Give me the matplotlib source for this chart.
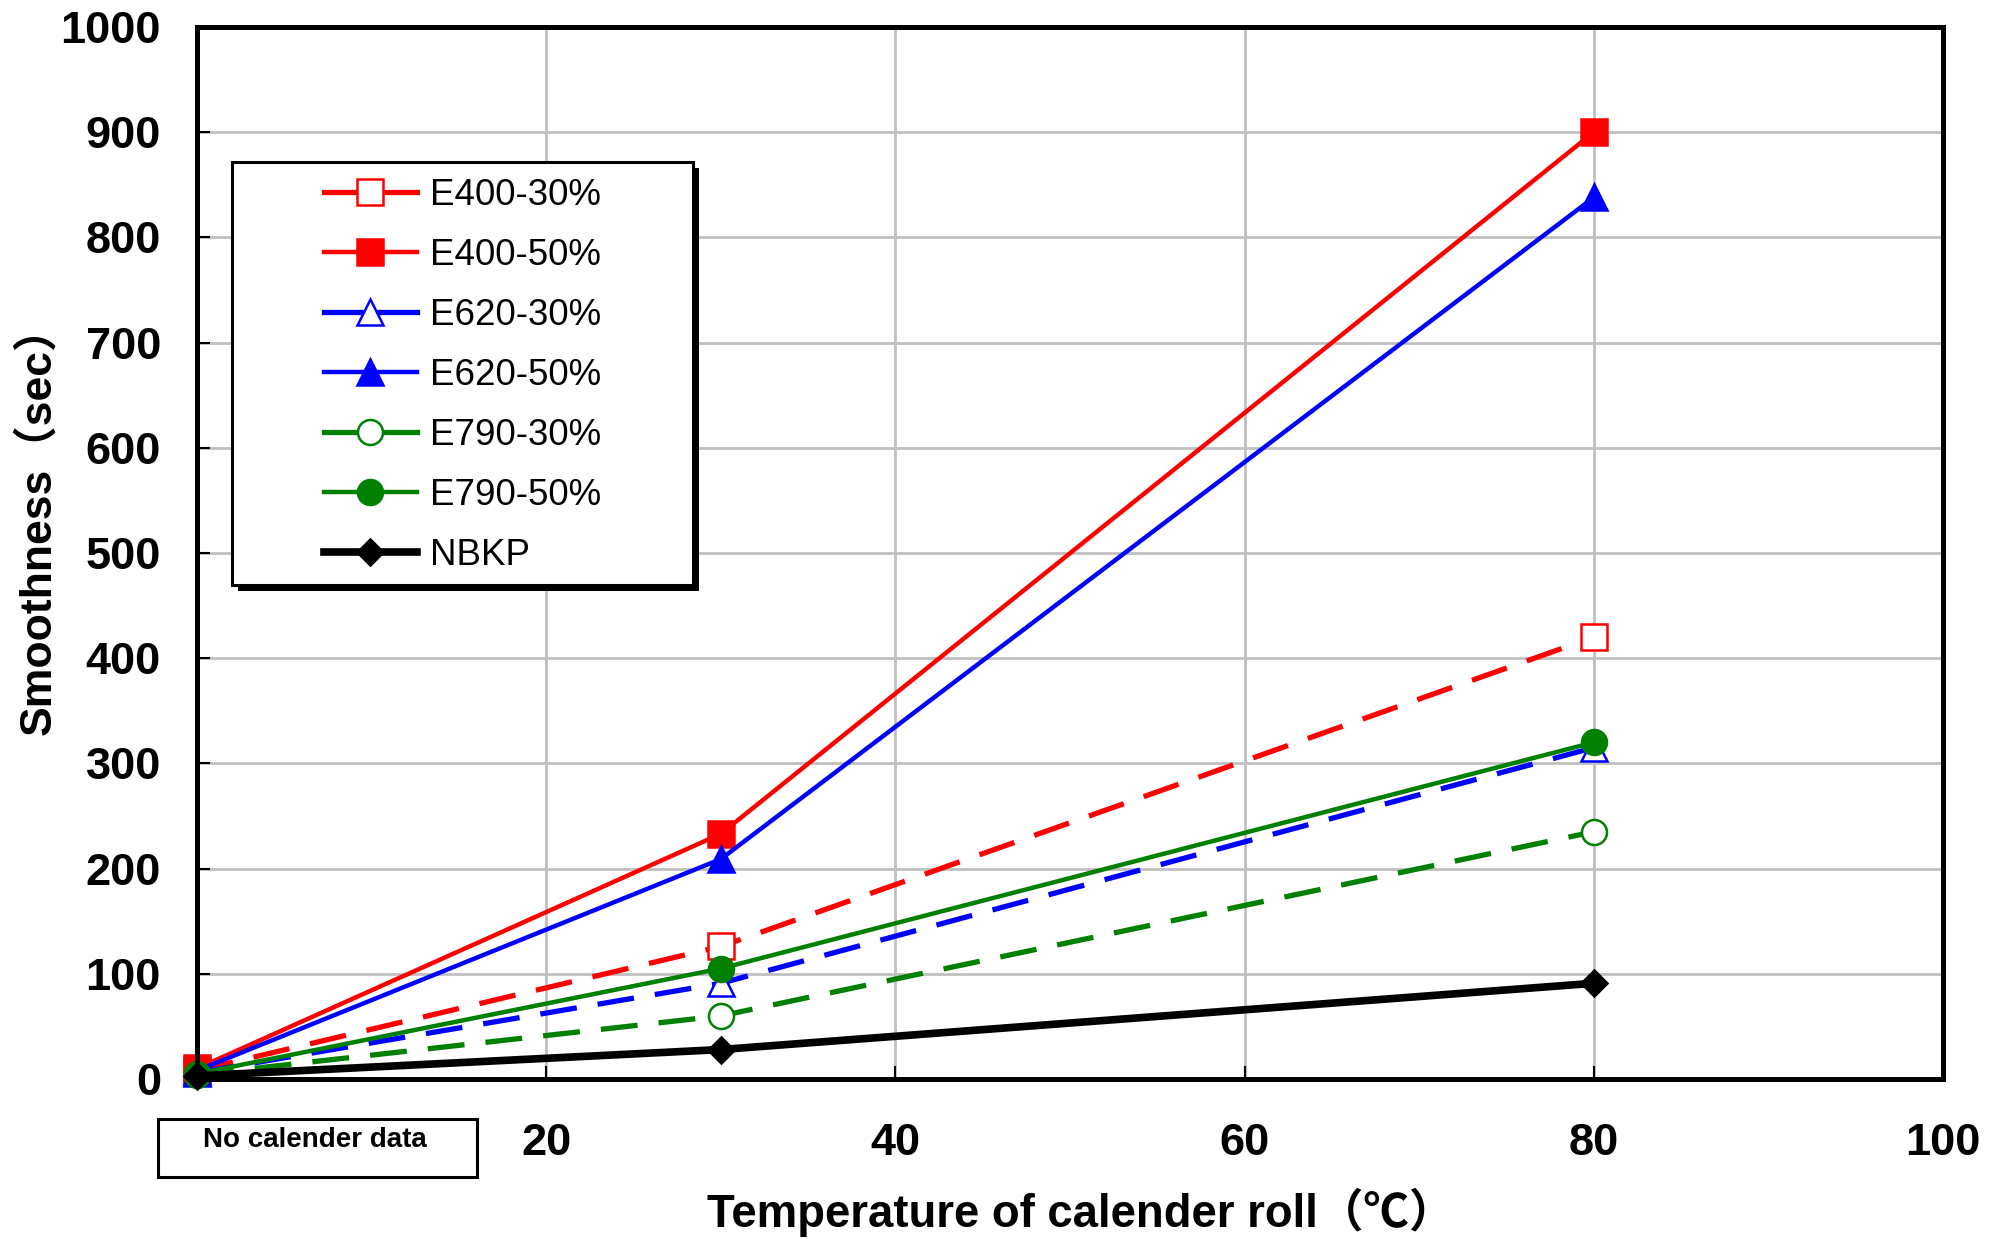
import matplotlib
matplotlib.use("Agg")
import matplotlib.pyplot as plt
from matplotlib.lines import Line2D
from matplotlib.patches import Rectangle

# ---- data ----
temps = [0, 30, 80]
e400_30 = [8, 126, 420]
e400_50 = [10, 233, 900]
e620_30 = [6, 91, 315]
e620_50 = [8, 209, 838]
e790_30 = [4, 60, 235]
e790_50 = [5, 105, 320]
nbkp = [3, 28, 91]
series_labels = ["E400-30%", "E400-50%", "E620-30%", "E620-50%",
                 "E790-30%", "E790-50%", "NBKP"]
xticks = [0, 20, 40, 60, 80, 100]
xticklabels = ["", "20", "40", "60", "80", "100"]
yticks = [0, 100, 200, 300, 400, 500, 600, 700, 800, 900, 1000]

plt.rcParams['font.family'] = ['Liberation Sans', 'Noto Sans CJK JP', 'DejaVu Sans']

W, H = 2009, 1239
fig = plt.figure(figsize=(W / 100, H / 100), dpi=100)
ax = fig.add_axes([197 / W, 1 - 1079 / H, (1943 - 197) / W, (1079 - 27) / H])

styles = [
    dict(color="#FF0000", ls=(0, (7, 4)), lw=3.8, marker="s", mfc="white", ms=19),
    dict(color="#FF0000", ls="-", lw=3.2, marker="s", mfc="#FF0000", ms=19),
    dict(color="#0000FF", ls=(0, (7, 4)), lw=3.8, marker="^", mfc="white", ms=19),
    dict(color="#0000FF", ls="-", lw=3.2, marker="^", mfc="#0000FF", ms=19),
    dict(color="#008000", ls=(0, (7, 4)), lw=3.8, marker="o", mfc="white", ms=18),
    dict(color="#008000", ls="-", lw=3.2, marker="o", mfc="#008000", ms=18),
    dict(color="black", ls="-", lw=5.5, marker="D", mfc="black", ms=13),
]
data = [e400_30, e400_50, e620_30, e620_50, e790_30, e790_50, nbkp]

handles = []
for ys, st, lab in zip(data, styles, series_labels):
    ax.plot(temps, ys, color=st["color"], linestyle=st["ls"], linewidth=st["lw"],
            marker=st["marker"], markerfacecolor=st["mfc"], markeredgecolor=st["color"],
            markeredgewidth=1.8, markersize=st["ms"], clip_on=False, zorder=3)
    handles.append(Line2D([], [], color=st["color"], linestyle="-", linewidth=st["lw"],
                          marker=st["marker"], markerfacecolor=st["mfc"],
                          markeredgecolor=st["color"], markeredgewidth=1.8,
                          markersize=st["ms"]))

ax.set_xlim(0, 100)
ax.set_ylim(0, 1000)
ax.set_xticks(xticks)
ax.set_xticklabels(xticklabels)
ax.set_yticks(yticks)
ax.set_yticklabels([str(v) for v in yticks])
ax.grid(True, color="#c0c0c0", linewidth=2.0, zorder=0)
ax.set_axisbelow(True)
for sp in ax.spines.values():
    sp.set_linewidth(3.6)
    sp.set_color("black")
    sp.set_zorder(4)
ax.tick_params(axis="both", direction="in", length=9.5, width=1.5, color="black",
               labelsize=32.5)
ax.tick_params(axis="x", pad=32)
ax.tick_params(axis="y", pad=26)
for t in ax.get_xticklabels() + ax.get_yticklabels():
    t.set_fontweight("bold")

# axis titles
fig.text(38 / W, 1 - 520 / H, "Smoothness（sec）", rotation=90, ha="center", va="center",
         fontsize=32, fontweight="bold")
fig.text(1081 / W, 1 - 1212 / H, "Temperature of calender roll（℃）", ha="center",
         va="center", fontsize=32.8, fontweight="bold")

# legend box with shadow
lx0, ly0, lx1, ly1 = 232, 162, 693, 585
shadow = Rectangle(((lx0 + 6) / W, 1 - (ly1 + 6) / H), (lx1 - lx0) / W, (ly1 - ly0) / H,
                   transform=fig.transFigure, facecolor="black", edgecolor="black",
                   linewidth=0, zorder=5)
frame = Rectangle((lx0 / W, 1 - ly1 / H), (lx1 - lx0) / W, (ly1 - ly0) / H,
                  transform=fig.transFigure, facecolor="white", edgecolor="black",
                  linewidth=2.2, zorder=6)
fig.add_artist(shadow)
fig.add_artist(frame)
leg = fig.legend(handles, series_labels, loc="center",
                 bbox_to_anchor=((lx0 + lx1) / 2 / W, 1 - (ly0 + ly1 + 4) / 2 / H),
                 frameon=False, fontsize=26.5, handlelength=2.55, handletextpad=0.35,
                 labelspacing=0.68, borderpad=0.0)
leg.set_zorder(7)

# "No calender data" box
nb = Rectangle((158 / W, 1 - 1177 / H), (477 - 158) / W, (1177 - 1119) / H,
               transform=fig.transFigure, facecolor="white", edgecolor="black",
               linewidth=2.2, zorder=5)
fig.add_artist(nb)
fig.text(315 / W, 1 - 1140 / H, "No calender data", ha="center", va="center",
         fontsize=20, fontweight="bold", zorder=6)

fig.savefig("out.png", dpi=100)
